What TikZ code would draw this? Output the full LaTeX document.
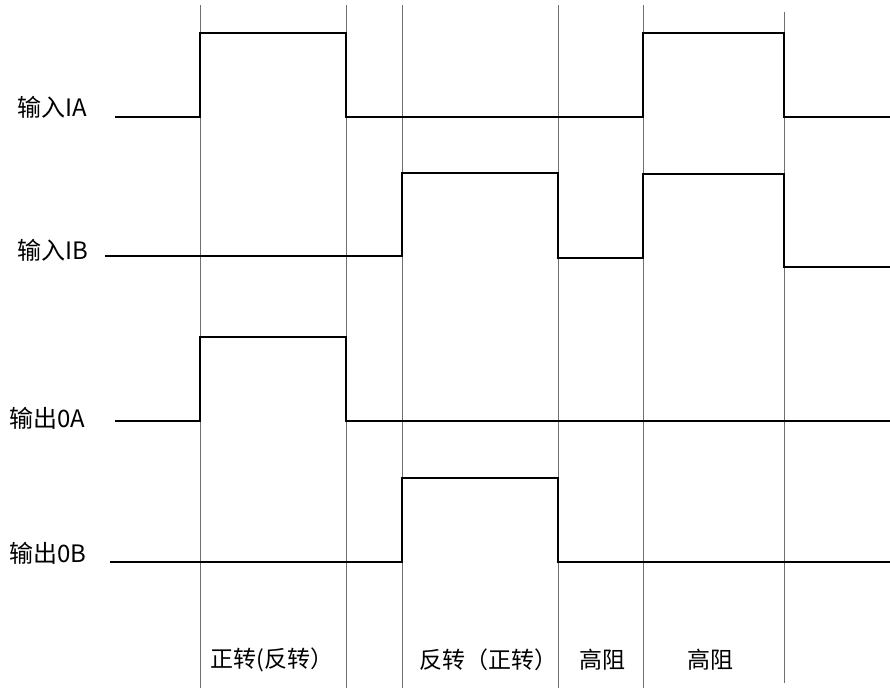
\documentclass[tikz,border=0pt]{standalone}
\usepackage{fontspec}
\setmainfont{Noto Sans CJK SC}
\usetikzlibrary{positioning}
\definecolor{gridgray}{HTML}{6F6F6F}

\tikzset{
  gridline/.style={draw=gridgray, line width=0.9pt},
  signal/.style={draw=black, line width=1.6pt, line join=miter},
  siglabel/.style={anchor=west, inner sep=0pt, font=\fontsize{24}{24}\selectfont},
  phase/.style={inner sep=0pt, font=\fontsize{23}{23}\selectfont}
}

\begin{document}
\begin{tikzpicture}[x=1pt, y=-1pt]
  \useasboundingbox (0,0) rectangle (890,688);

  % phase boundaries
  \draw[gridline] (200,5) -- (200,688);
  \draw[gridline] (346,5) -- (346,688);
  \draw[gridline] (402,5) -- (402,688);
  \draw[gridline] (558,5) -- (558,688);
  \draw[gridline] (643,5) -- (643,688);
  \draw[gridline] (784,12) -- (784,683);

  % signal names
  \node[siglabel] (inA)  at (17,107) {输入IA};
  \node[siglabel] (inB)  at (17,250) {输入IB};
  \node[siglabel] (outA) at (9,418) {输出0A};
  \node[siglabel] (outB) at (9,553) {输出0B};

  % waveforms
  \draw[signal] (115,117) -- (200,117) -- (200,33) -- (346,33) -- (346,117)
    -- (643,117) -- (643,33) -- (784,33) -- (784,117) -- (890,117);
  \draw[signal] (105,256) -- (402,256) -- (402,173) -- (558,173) -- (558,258)
    -- (643,258) -- (643,174) -- (784,174) -- (784,267) -- (890,267);
  \draw[signal] (115,421) -- (200,421) -- (200,337) -- (346,337) -- (346,421)
    -- (890,421);
  \draw[signal] (110,562) -- (402,562) -- (402,478) -- (558,478) -- (558,562)
    -- (890,562);

  % phase names
  \node[phase] (fwd)  at (272,660) {正转(反转）};
  \node[phase] (rev)  at (488,660) {反转（正转）};
  \node[phase] (hiz1) at (602,660) {高阻};
  \node[phase] (hiz2) at (710,660) {高阻};
\end{tikzpicture}
\end{document}
